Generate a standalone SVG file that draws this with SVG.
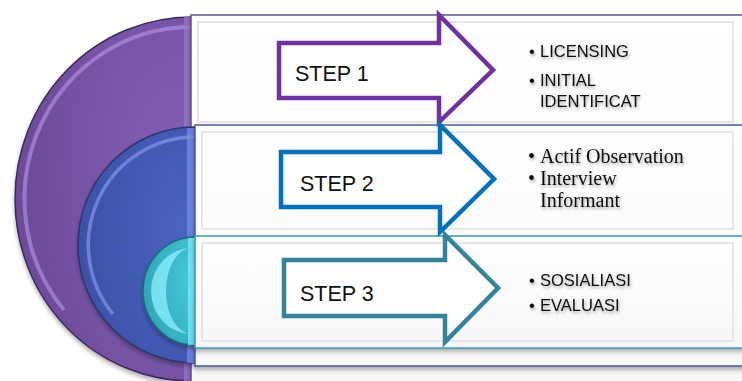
<svg xmlns="http://www.w3.org/2000/svg" width="742" height="381" viewBox="0 0 742 381">
<style>
.step{font-family:"Liberation Sans",Arial,sans-serif;font-size:21.5px;fill:#111;}
.sans{font-family:"Liberation Sans",Arial,sans-serif;font-size:16.5px;fill:#111;}
.serif{font-family:"Liberation Serif","Times New Roman",serif;font-size:20px;fill:#111;}
.arrow{fill:#fff;stroke-width:4.5;stroke-linejoin:miter;}
.panel{fill:url(#panelGrad);}
.bevel{fill:none;stroke:#e6e6e6;stroke-width:2;}
</style>
<defs>
<linearGradient id="panelGrad" x1="0" y1="0" x2="0" y2="1">
<stop offset="0" stop-color="#ffffff"/>
<stop offset="1" stop-color="#f7f7f7"/>
</linearGradient>
<radialGradient id="gPurple" cx="0.9" cy="0.45" r="0.9">
<stop offset="0" stop-color="#8460b4"/>
<stop offset="1" stop-color="#6c4a98"/>
</radialGradient>
<radialGradient id="gBlue" cx="0.9" cy="0.45" r="0.9">
<stop offset="0" stop-color="#4a64c0"/>
<stop offset="1" stop-color="#3b50a6"/>
</radialGradient>
<radialGradient id="gTeal" cx="0.9" cy="0.4" r="0.9">
<stop offset="0" stop-color="#45c8d8"/>
<stop offset="1" stop-color="#2fa6b8"/>
</radialGradient>
<filter id="shadow" x="-5%" y="-5%" width="110%" height="115%">
<feDropShadow dx="0" dy="3" stdDeviation="2" flood-color="#000" flood-opacity="0.3"/>
</filter>
<filter id="tshadow" x="-10%" y="-20%" width="120%" height="150%">
<feDropShadow dx="1" dy="2" stdDeviation="1.5" flood-color="#000" flood-opacity="0.35"/>
</filter>
</defs>

<g id="circle1">
<path d="M192,17 A177,182 0 0 0 192,381 Z" fill="url(#gPurple)" stroke="#3e2c5e" stroke-width="1.5" filter="url(#shadow)"/>
<path d="M192,27 A167,172 0 0 0 64,310" fill="none" stroke="#b597e6" stroke-width="4" stroke-opacity="0.6"/>
<rect x="184" y="17" width="8" height="364" fill="#9a78cc" opacity="0.7"/>
</g>
<g id="rect1">
<rect class="panel" x="191" y="15" width="560" height="372" stroke="#5e5090" stroke-width="1.5" filter="url(#shadow)"/>
<rect class="bevel" x="198" y="22" width="535" height="100"/>
</g>

<g id="circle2">
<path d="M195,127 A117,118 0 0 0 195,363 Z" fill="url(#gBlue)" stroke="#2c3470" stroke-width="1.5" filter="url(#shadow)"/>
<path d="M195,137 A107,108 0 0 0 113,314" fill="none" stroke="#8ea2f0" stroke-width="3.5" stroke-opacity="0.6"/>
<rect x="187" y="128" width="8" height="235" fill="#7a90ea" opacity="0.7"/>
</g>
<g id="rect2">
<rect class="panel" x="195" y="125" width="556" height="241" stroke="#4a5a9c" stroke-width="1.5" filter="url(#shadow)"/>
<rect class="bevel" x="202" y="132" width="531" height="97"/>
</g>

<g id="circle3">
<path d="M195,237 A52,54 0 0 0 195,345 Z" fill="url(#gTeal)" stroke="#1e6c78" stroke-width="1.5" filter="url(#shadow)"/>
<path d="M192,248 A41,43 0 0 0 192,334 A26,43 0 0 1 192,248 Z" fill="#8ff2ff" opacity="0.75"/>
<rect x="188" y="238" width="7" height="107" fill="#7ff0ff" opacity="0.7"/>
</g>
<g id="rect3">
<rect class="panel" x="195" y="236" width="556" height="112" stroke="#3a9aaa" stroke-width="1.5" filter="url(#shadow)"/>
<rect class="bevel" x="202" y="243" width="531" height="98"/>
</g>

<g id="step1">
<path class="arrow" d="M279,43 H439 V15 L493,70 L439,122 V98 H279 Z" stroke="#7030a0"/>
<text class="step" x="295" y="81">STEP 1</text>
</g>
<g id="step2">
<path class="arrow" d="M281,152 H440 V125 L494,179 L440,232 V207 H281 Z" stroke="#0070c0"/>
<text class="step" x="300" y="191">STEP 2</text>
</g>
<g id="step3">
<path class="arrow" d="M284,260 H445 V235 L498,288 L445,342 V316 H284 Z" stroke="#31849b"/>
<text class="step" x="300" y="301">STEP 3</text>
</g>

<g id="list1" filter="url(#tshadow)">
<text class="sans" x="529" y="57">•</text><text class="sans" x="540" y="57">LICENSING</text>
<text class="sans" x="529" y="86">•</text><text class="sans" x="540" y="86">INITIAL</text>
<text class="sans" x="540" y="107">IDENTIFICAT</text>
</g>
<g id="list2" filter="url(#tshadow)">
<text class="serif" x="528" y="163">•</text><text class="serif" x="540" y="163">Actif Observation</text>
<text class="serif" x="528" y="185">•</text><text class="serif" x="540" y="185">Interview</text>
<text class="serif" x="540" y="207">Informant</text>
</g>
<g id="list3" filter="url(#tshadow)">
<text class="sans" x="529" y="286">•</text><text class="sans" x="540" y="286">SOSIALIASI</text>
<text class="sans" x="529" y="311">•</text><text class="sans" x="540" y="311">EVALUASI</text>
</g>
</svg>
